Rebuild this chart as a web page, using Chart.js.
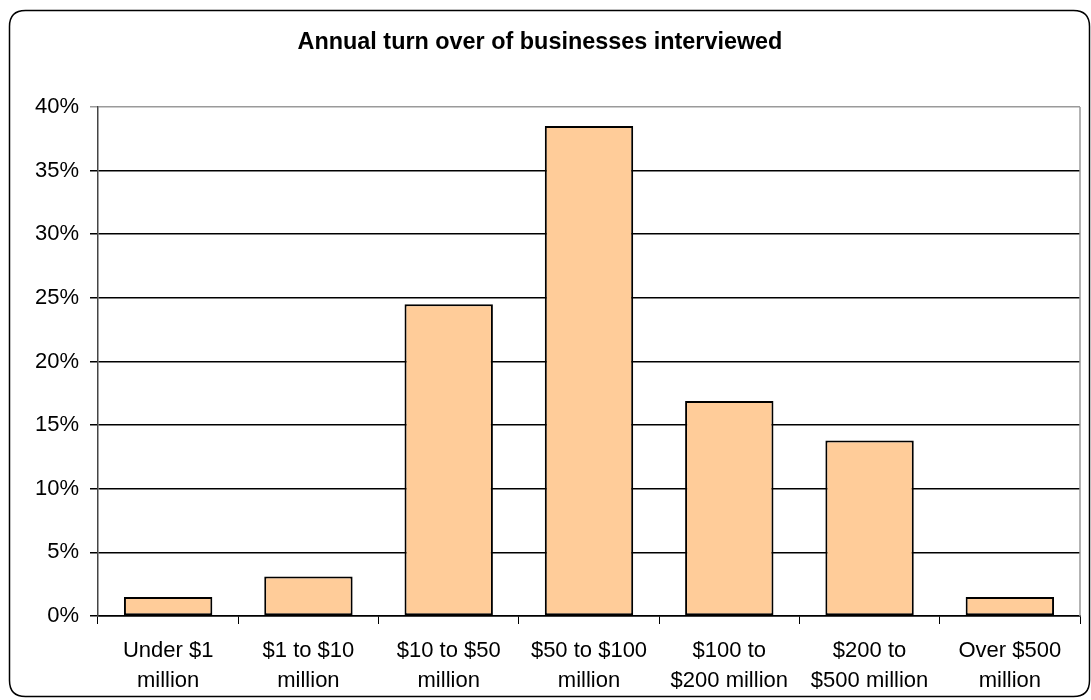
<!DOCTYPE html>
<html>
<head>
<meta charset="utf-8">
<script src="https://cdn.jsdelivr.net/npm/chart.js@4/dist/chart.umd.min.js"></script>
<style>
  html, body { margin: 0; padding: 0; background: #fff; }
  #wrap { width: 1091px; height: 700px; }
</style>
</head>
<body>
<div id="wrap"><canvas id="c" width="1091" height="700"></canvas></div>
<script>
// Turnover bands (two-line labels)
const categories = [
  ["Under $1", "million"],
  ["$1 to $10", "million"],
  ["$10 to $50", "million"],
  ["$50 to $100", "million"],
  ["$100 to", "$200 million"],
  ["$200 to", "$500 million"],
  ["Over $500", "million"]
];
// Share of businesses interviewed, in percent
const shares = [1.5, 3.1, 24.5, 38.5, 16.9, 13.8, 1.5];
const yTicks = [0, 5, 10, 15, 20, 25, 30, 35, 40];
const titleText = "Annual turn over of businesses interviewed";

const FONT = "'Liberation Sans', Arial, sans-serif";

// White page background and rounded outer frame
const framePlugin = {
  id: 'frame',
  beforeDraw(chart) {
    const ctx = chart.ctx;
    ctx.save();
    ctx.fillStyle = '#ffffff';
    ctx.fillRect(0, 0, chart.width, chart.height);
    ctx.restore();
  },
  afterDraw(chart) {
    const ctx = chart.ctx;
    const a = chart.chartArea;
    ctx.save();
    // right edge of plot area
    ctx.strokeStyle = '#9a9a9a';
    ctx.lineWidth = 1.5;
    ctx.beginPath();
    ctx.moveTo(a.right, a.top);
    ctx.lineTo(a.right, a.bottom);
    ctx.stroke();
    // rounded outer border
    const x = 9.5, y = 10.5, w = 1080, h = 686, r = 16;
    ctx.strokeStyle = '#000000';
    ctx.lineWidth = 1.5;
    ctx.beginPath();
    ctx.moveTo(x + r, y);
    ctx.lineTo(x + w - r, y);
    ctx.quadraticCurveTo(x + w, y, x + w, y + r);
    ctx.lineTo(x + w, y + h - r);
    ctx.quadraticCurveTo(x + w, y + h, x + w - r, y + h);
    ctx.lineTo(x + r, y + h);
    ctx.quadraticCurveTo(x, y + h, x, y + h - r);
    ctx.lineTo(x, y + r);
    ctx.quadraticCurveTo(x, y, x + r, y);
    ctx.stroke();
    ctx.restore();
  }
};

new Chart(document.getElementById('c'), {
  type: 'bar',
  data: {
    labels: categories,
    datasets: [{
      data: shares,
      backgroundColor: '#FFCC99',
      borderColor: '#000000',
      borderWidth: 2,
      borderSkipped: false,
      barPercentage: 1.0,
      categoryPercentage: 0.63
    }]
  },
  options: {
    responsive: false,
    animation: false,
    devicePixelRatio: 1,
    layout: { padding: { left: 0, right: 11, top: 0, bottom: 0 } },
    plugins: {
      legend: { display: false },
      tooltip: { enabled: false },
      title: {
        display: true,
        text: titleText,
        color: '#000000',
        font: { family: FONT, size: 23.4, weight: 'bold', lineHeight: 1.2 },
        padding: { top: 29, bottom: 49.9 }
      }
    },
    scales: {
      x: {
        offset: true,
        grid: {
          offset: true,
          drawOnChartArea: false,
          drawTicks: true,
          tickLength: 8,
          color: '#000000',
          lineWidth: 1
        },
        border: { display: true, color: '#000000', width: 1.5 },
        ticks: {
          color: '#000000',
          font: { family: FONT, size: 22, lineHeight: 1.36 },
          padding: 12,
          maxRotation: 0,
          autoSkip: false
        },
        afterFit(scale) { scale.height = 84; }
      },
      y: {
        min: 0,
        max: 40,
        afterBuildTicks(scale) { scale.ticks = yTicks.map(v => ({ value: v })); },
        grid: {
          drawTicks: true,
          tickLength: 8,
          color: ctx => (ctx.tick && ctx.tick.value === 40 ? '#9a9a9a' : '#000000'),
          lineWidth: 1.5
        },
        border: { display: true, color: '#444444', width: 1.5 },
        ticks: {
          color: '#000000',
          font: { family: FONT, size: 22 },
          padding: 11,
          callback: v => v + '%'
        },
        afterFit(scale) { scale.width = 98; }
      }
    }
  },
  plugins: [framePlugin]
});
</script>
</body>
</html>
